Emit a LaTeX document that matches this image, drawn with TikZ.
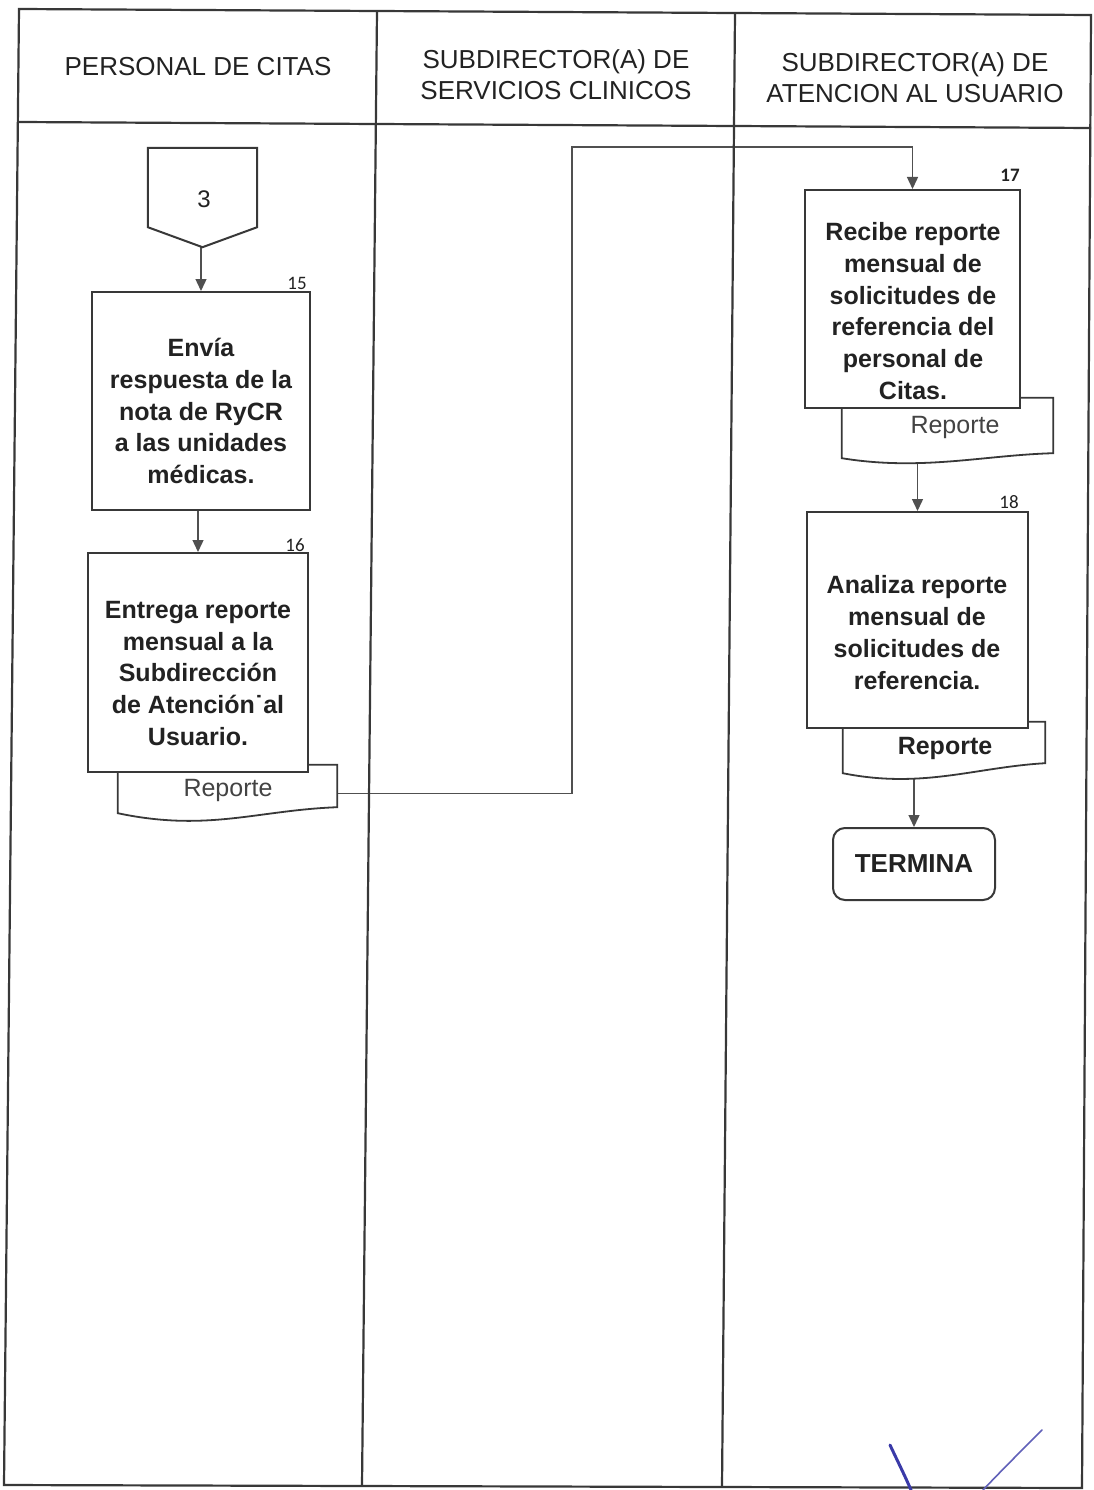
\documentclass[tikz,border=0pt]{standalone}
\usepackage{fontspec}
\setmainfont{Liberation Sans}[BoldFont={Liberation Sans Bold}]
\newfontfamily\numfont{Carlito}
\usetikzlibrary{arrows.meta,calc}
\pgfdeclarelayer{bg}
\pgfsetlayers{bg,main}
\definecolor{ink}{HTML}{222222}
\definecolor{linec}{HTML}{383838}
\definecolor{connc}{HTML}{505050}
\definecolor{pen}{HTML}{3A3AA8}
\tikzset{
  frameline/.style={draw=linec, line width=2.2pt},
  stepbox/.style={draw=linec, line width=2pt, fill=white, inner sep=0pt},
  docbox/.style={inner sep=0pt},
  docsh/.style={draw=linec, line width=1.8pt, fill=white},
  conn/.style={draw=connc, line width=1.4pt, -{Triangle[length=12pt,width=11pt]}},
  boxtxt/.style={font=\fontsize{25}{31.8}\selectfont\bfseries, text=ink, align=center, inner sep=0pt},
  doctxt/.style={font=\fontsize{25}{30}\selectfont, text=ink!85, inner sep=0pt},
  hdr/.style={font=\fontsize{26}{31}\selectfont, text=ink, align=center, inner sep=0pt},
  num/.style={font=\numfont\fontsize{19}{19}\selectfont, text=ink, inner sep=0pt},
  endbox/.style={draw=linec, line width=2pt, rounded corners=12pt, fill=white, inner sep=0pt,
     font=\fontsize{26}{30}\selectfont\bfseries, text=ink},
}
\begin{document}
\begin{tikzpicture}[x=1pt,y=-1pt]
\useasboundingbox (0,0) rectangle (1094,1490);
\begin{pgfonlayer}{bg}
\fill[white] (0,0) rectangle (1094,1490);
\end{pgfonlayer}

% frame (scan slightly tilted)
\coordinate (tl) at (19,9);
\coordinate (tr) at (1091,15);
\coordinate (bl) at (4,1485);
\coordinate (br) at (1082,1488);
\coordinate (hl) at (19,122);
\coordinate (hr) at (1091,128);
\coordinate (v1t) at (377,11);
\coordinate (v1b) at (362,1486);
\coordinate (v2t) at (735,13);
\coordinate (v2b) at (722,1487);
\draw[frameline] (tl) -- (tr) -- (br) -- (bl) -- cycle;
\draw[frameline] (hl) -- (hr);
\draw[frameline] (v1t) -- (v1b);
\draw[frameline] (v2t) -- (v2b);

% headers
\node[hdr] (h1) at (198,67) {PERSONAL DE CITAS};
\node[hdr] (h2) at (556,75) {SUBDIRECTOR(A) DE\\SERVICIOS CLINICOS};
\node[hdr] (h3) at (915,78) {SUBDIRECTOR(A) DE\\ATENCION AL USUARIO};

% off-page connector 3
\node[inner sep=0pt, minimum width=109pt, minimum height=99pt] (c3) at (202.5,197.5) {};
\draw[stepbox] (c3.north west) -- (c3.north east) -- ($(c3.south east)+(0,-20)$)
   -- (c3.south) -- ($(c3.south west)+(0,-20)$) -- cycle;
\node[font=\fontsize{24}{28}\selectfont, text=ink, inner sep=0pt] (c3t) at (204,199) {3};

% column 1
\node[stepbox, minimum width=218pt, minimum height=218pt] (b15) at (201,401) {};
\node[boxtxt] (t15) at (201,411) {Envía\\respuesta de la\\nota de RyCR\\a las unidades\\médicas.};
\node[num] (n15) at (297,283) {15};

\node[docbox, minimum width=219pt, minimum height=57pt] (d16) at (227.5,793.5) {};
\draw[docsh] (d16.north west) -- (d16.north east) -- ($(d16.south east)+(0,-15)$)
   .. controls ($(d16.south east)+(-80,-12)$) and ($(d16.south west)+(90,10)$) ..
   ($(d16.south west)+(0,-9)$) -- cycle;
\node[doctxt] (d16t) at (228,790) {Reporte};

\node[stepbox, minimum width=220pt, minimum height=219pt] (b16) at (198,662.5) {};
\node[boxtxt] (t16) at (198,673.5) {Entrega reporte\\mensual a la\\Subdirección\\de Atención˙al\\Usuario.};
\node[num] (n16) at (295,545) {16};

% column 3
\node[docbox, minimum width=211pt, minimum height=65pt] (d17) at (947.5,430.5) {};
\draw[docsh] (d17.north west) -- (d17.north east) -- ($(d17.south east)+(0,-10)$)
   .. controls ($(d17.south east)+(-70,-8)$) and ($(d17.south west)+(80,8)$) ..
   ($(d17.south west)+(0,-5)$) -- cycle;
\node[doctxt] (d17t) at (955,427) {Reporte};

\node[stepbox, minimum width=215pt, minimum height=218pt] (b17) at (912.5,299) {};
\node[boxtxt] (t17) at (913,311) {Recibe reporte\\mensual de\\solicitudes de\\referencia del\\personal de\\Citas.};
\node[num, font=\numfont\fontsize{19}{19}\selectfont\bfseries] (n17) at (1010,175) {17};

\node[docbox, minimum width=202pt, minimum height=59pt] (d18) at (944,751.5) {};
\draw[docsh] (d18.north west) -- (d18.north east) -- ($(d18.south east)+(0,-18)$)
   .. controls ($(d18.south east)+(-70,-14)$) and ($(d18.south west)+(80,8)$) ..
   ($(d18.south west)+(0,-8)$) -- cycle;
\node[doctxt, font=\fontsize{25}{30}\selectfont\bfseries, text=ink] (d18t) at (945,748) {Reporte};

\node[stepbox, minimum width=221pt, minimum height=216pt] (b18) at (917.5,620) {};
\node[boxtxt] (t18) at (917,632.5) {Analiza reporte\\mensual de\\solicitudes de\\referencia.};
\node[num] (n18) at (1009,502) {18};

\node[endbox, minimum width=162pt, minimum height=72pt] (term) at (914,864) {TERMINA};

% connectors
\coordinate (bend) at (572,147);
\begin{pgfonlayer}{bg}
\draw[conn] (b15.north |- c3.south) -- (b15.north);
\draw[conn] (b16.north |- b15.south) -- (b16.north);
\draw[conn] (d16.east) -| (bend) -| (b17.north);
\draw[conn] (b18.north |- b17.south) -- (b18.north);
\draw[conn] (term.north |- b18.south) -- (term.north);
\end{pgfonlayer}

% handwritten pen marks
\draw[pen, line width=3pt, line cap=round] (890,1445) .. controls (898,1462) and (905,1476) .. (911,1490);
\draw[pen!80, line width=1.6pt, line cap=round] (1042,1430) .. controls (1020,1452) and (1000,1472) .. (983,1490);
\end{tikzpicture}
\end{document}
